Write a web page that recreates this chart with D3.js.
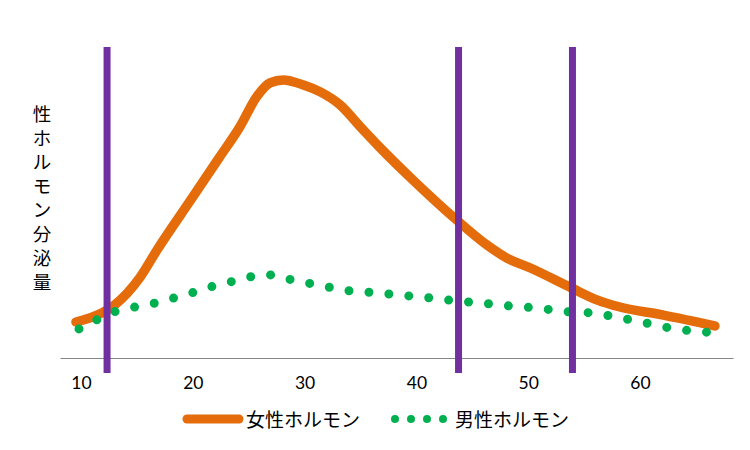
<!DOCTYPE html>
<html>
<head>
<meta charset="utf-8">
<script src="https://cdn.jsdelivr.net/npm/d3@7"></script>
<style>
  html, body { margin: 0; padding: 0; background: #fff; }
  svg { display: block; }
</style>
</head>
<body>
<svg id="chart" width="750" height="450"></svg>
<script>
// ---- data ----
const femaleAge = [9.55, 12.0, 13.0, 15.3, 16.8, 20.0, 22.4, 24.2, 25.7, 26.9, 28.1, 29.9, 31.4, 33.2, 35.0, 36.7, 39.7, 43.6, 46.3, 48.1, 50.2, 53.9, 56.2, 58.2, 62.1, 66.7];
const femaleVal = [12.0, 15.3, 17.7, 27.0, 36.0, 53.7, 67.0, 77.0, 87.0, 91.7, 92.7, 91.0, 88.7, 84.3, 77.0, 70.3, 59.3, 46.0, 37.7, 33.3, 30.0, 23.3, 19.3, 17.0, 14.3, 10.7];
const maleAge = [9.82, 11.4, 13.0, 14.7, 16.5, 18.2, 20.0, 21.7, 23.4, 25.2, 27.0, 28.7, 30.4, 32.2, 34.0, 35.8, 37.6, 39.3, 41.1, 42.9, 44.6, 46.4, 48.2, 50.0, 51.8, 53.6, 55.4, 57.1, 58.9, 60.6, 62.4, 64.2, 66.0];
const maleVal = [9.7, 12.7, 15.4, 16.9, 18.2, 19.9, 21.8, 23.8, 25.4, 27.1, 27.7, 26.2, 24.9, 23.6, 22.4, 21.9, 21.3, 20.7, 20.1, 19.3, 18.7, 18.1, 17.4, 16.9, 16.2, 15.4, 15.1, 14.2, 12.9, 11.6, 10.2, 9.2, 8.6];
const markerAges = [12.33, 43.77, 53.96];
const xTicks = [10, 20, 30, 40, 50, 60];
const seriesNames = ["女性ホルモン", "男性ホルモン"];
const yLabel = "性ホルモン分泌量";

// ---- styles ----
const orange = "#E46C0A", green = "#00B050", purple = "#7030A0";
const svg = d3.select("#chart");

const x = d3.scaleLinear().domain([8.12, 68.32]).range([60, 733]);
const y = d3.scaleLinear().domain([0, 100]).range([358, 58]);

// axis
const axis = d3.axisBottom(x).tickValues(xTicks).tickSizeInner(0).tickSizeOuter(0).tickPadding(19);
const ag = svg.append("g").attr("transform", "translate(0,358)").call(axis);
ag.select(".domain").attr("stroke", "#868686").attr("stroke-width", 1.2);
ag.selectAll(".tick text").attr("font-family", "Lato, 'Open Sans', sans-serif")
  .attr("font-size", 17.5).attr("fill", "#000");

// female line
const line = d3.line().curve(d3.curveMonotoneX);
svg.append("path")
  .attr("d", line(femaleAge.map((a, i) => [x(a), y(femaleVal[i])])))
  .attr("fill", "none").attr("stroke", orange).attr("stroke-width", 9.5)
  .attr("stroke-linecap", "round").attr("stroke-linejoin", "round");

// male dotted line
const mp = svg.append("path")
  .attr("d", line(maleAge.map((a, i) => [x(a), y(maleVal[i])])))
  .attr("fill", "none").attr("stroke", green).attr("stroke-width", 9)
  .attr("stroke-linecap", "round");
const len = mp.node().getTotalLength();
mp.attr("stroke-dasharray", "0," + (len / (maleAge.length - 1) - 0.02));

// purple markers
svg.selectAll("line.marker").data(markerAges).enter().append("line")
  .attr("class", "marker")
  .attr("x1", d => x(d)).attr("x2", d => x(d))
  .attr("y1", 47).attr("y2", 373)
  .attr("stroke", purple).attr("stroke-width", 7);

// y label (vertical stacked chars)
const jp = "'Noto Sans CJK JP', sans-serif";
svg.append("g").selectAll("text").data(Array.from(yLabel)).enter().append("text")
  .attr("x", 42).attr("y", (d, i) => 112.5 + i * 24)
  .attr("text-anchor", "middle").attr("dominant-baseline", "central")
  .attr("font-family", jp).attr("font-size", 18.5).attr("fill", "#000")
  .text(d => d);

// legend
svg.append("line").attr("x1", 187).attr("x2", 239).attr("y1", 419).attr("y2", 419)
  .attr("stroke", orange).attr("stroke-width", 9).attr("stroke-linecap", "round");
svg.append("text").attr("x", 246).attr("y", 418).attr("dominant-baseline", "central")
  .attr("font-family", jp).attr("font-size", 19).attr("fill", "#000").text(seriesNames[0]);
svg.append("line").attr("x1", 395).attr("x2", 443.5).attr("y1", 419).attr("y2", 419)
  .attr("stroke", green).attr("stroke-width", 8).attr("stroke-linecap", "round")
  .attr("stroke-dasharray", "0,16");
svg.append("text").attr("x", 455).attr("y", 418).attr("dominant-baseline", "central")
  .attr("font-family", jp).attr("font-size", 19).attr("fill", "#000").text(seriesNames[1]);
</script>
</body>
</html>
